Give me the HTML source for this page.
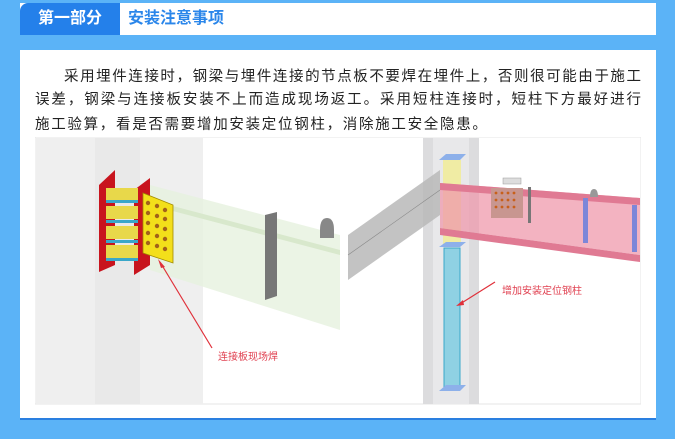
<!DOCTYPE html>
<html><head><meta charset="utf-8"><style>
*{margin:0;padding:0;box-sizing:border-box}
body{width:675px;height:439px;background:#5bb3f7;position:relative;overflow:hidden;font-family:"Liberation Sans","Noto Sans CJK SC",sans-serif}
#hdr{position:absolute;left:20px;top:3px;width:636px;height:32px;background:#fff}
#hdr .tag{position:absolute;left:0;top:0;width:100px;height:32px;background:#2480ea;color:#fff;font-weight:bold;font-size:16px;line-height:32px;text-align:center;border-top-left-radius:8px}
#hdr .ttl{position:absolute;left:108px;top:0;line-height:32px;font-size:16px;font-weight:bold;color:#2a86ea}
#panel{position:absolute;left:20px;top:50px;width:636px;height:370px;background:#fff;border-bottom:2px solid #2a7fe0}
.ln{position:absolute;left:35px;width:606px;font-size:14.5px;color:#222;height:20px;line-height:20px;text-align:justify;text-align-last:justify;white-space:nowrap}
</style></head><body>
<div id="hdr"><div class="tag">第一部分</div><div class="ttl">安装注意事项</div></div>
<div id="panel"></div>
<div class="ln" style="top:67px;left:64px;width:577px">采用埋件连接时，钢梁与埋件连接的节点板不要焊在埋件上，否则很可能由于施工</div>
<div class="ln" style="top:90px">误差，钢梁与连接板安装不上而造成现场返工。采用短柱连接时，短柱下方最好进行</div>
<div class="ln" style="top:115px;width:auto;letter-spacing:1.7px">施工验算，看是否需要增加安装定位钢柱，消除施工安全隐患。</div>
<svg style="position:absolute;left:35px;top:137px" width="606" height="268" viewBox="35 137 606 268">
<rect x="35" y="137" width="606" height="267" fill="#fff" stroke="#e6e6e6"/>
<rect x="36" y="138" width="167" height="266" fill="#efefef"/>
<rect x="95" y="138" width="45" height="266" fill="#e9e9e9"/>
<polygon points="150,185 340,235 340,330 150,270" fill="#e6f1df" opacity="0.8"/>
<polygon points="150,200 340,250 340,255 150,205" fill="#d8e8cc"/>
<polygon points="265,215 277,212 277,296 265,300" fill="#777"/>
<path d="M320,230 q0,-12 7,-12 q7,0 7,12 v8 h-14z" fill="#888"/>
<polygon points="99,185 115,170 115,265 99,272" fill="#c8141e"/>
<polygon points="134,190 150,178 150,265 134,275" fill="#c8141e"/>
<rect x="106" y="188" width="32" height="13" fill="#e8d84a"/><rect x="106" y="206" width="32" height="13" fill="#e8d84a"/>
<rect x="106" y="226" width="32" height="13" fill="#e8d84a"/><rect x="106" y="245" width="32" height="13" fill="#e8d84a"/>
<rect x="106" y="200" width="32" height="3" fill="#3aa7c9"/><rect x="106" y="220" width="32" height="3" fill="#3aa7c9"/><rect x="106" y="240" width="32" height="3" fill="#3aa7c9"/><rect x="106" y="258" width="32" height="3" fill="#3aa7c9"/>
<polygon points="143,193 173,205 173,263 143,253" fill="#f3df1a" stroke="#a08a00" stroke-width="0.8"/>
<g fill="#a2621a"><circle cx="148" cy="203" r="2.2"/><circle cx="157" cy="206" r="2.2"/><circle cx="165" cy="210" r="2.2"/><circle cx="148" cy="213" r="2.2"/><circle cx="157" cy="216" r="2.2"/><circle cx="165" cy="219" r="2.2"/><circle cx="148" cy="223" r="2.2"/><circle cx="157" cy="226" r="2.2"/><circle cx="165" cy="229" r="2.2"/><circle cx="148" cy="233" r="2.2"/><circle cx="157" cy="236" r="2.2"/><circle cx="165" cy="239" r="2.2"/><circle cx="148" cy="243" r="2.2"/><circle cx="157" cy="246" r="2.2"/><circle cx="165" cy="249" r="2.2"/></g>
<line x1="212" y1="348" x2="160" y2="262" stroke="#e0303a" stroke-width="1.2"/>
<polygon points="158,259 165,267 161,268" fill="#e0303a"/>
<text x="218" y="360" font-size="10" fill="#e04050">连接板现场焊</text>
<rect x="423" y="138" width="56" height="266" fill="#dcdcde"/>
<rect x="433" y="138" width="36" height="266" fill="#e8e8ea"/>
<polygon points="348,235 440,170 440,215 348,280" fill="#b9b9b9" opacity="0.85"/>
<line x1="348" y1="255" x2="440" y2="190" stroke="#888" stroke-width="0.6"/>
<rect x="443" y="160" width="18" height="85" fill="#f1ec9c" opacity="0.9"/>
<polygon points="439,160 446,154 466,154 460,160" fill="#8db0ea"/>
<polygon points="440,183 640,198 640,255 440,228" fill="#ef9aac" opacity="0.75"/>
<polygon points="440,183 640,198 640,205 440,190" fill="#e07a93"/>
<polygon points="440,228 640,255 640,262 440,235" fill="#e07a93"/>
<rect x="491" y="188" width="32" height="30" fill="#c89690"/>
<g fill="#c8601a"><circle cx="496" cy="193" r="1.4"/><circle cx="502" cy="193" r="1.4"/><circle cx="508" cy="193" r="1.4"/><circle cx="514" cy="193" r="1.4"/><circle cx="496" cy="200" r="1.4"/><circle cx="502" cy="200" r="1.4"/><circle cx="508" cy="200" r="1.4"/><circle cx="514" cy="200" r="1.4"/><circle cx="496" cy="207" r="1.4"/><circle cx="502" cy="207" r="1.4"/><circle cx="508" cy="207" r="1.4"/><circle cx="514" cy="207" r="1.4"/></g>
<rect x="528" y="187" width="3" height="36" fill="#777"/>
<rect x="583" y="198" width="5" height="45" fill="#7d86d8"/><rect x="632" y="205" width="5" height="47" fill="#7d86d8"/>
<path d="M590,197 q0,-8 4,-8 q4,0 4,8z" fill="#999"/>
<rect x="503" y="178" width="18" height="6" fill="#ddd" stroke="#999" stroke-width="0.5"/>
<polygon points="439,247 446,242 466,242 460,247" fill="#8db0ea"/>
<rect x="444" y="248" width="16" height="140" fill="#8fd1e3" stroke="#3aa7c9"/>
<polygon points="439,391 446,385 466,385 460,391" fill="#8db0ea"/>
<line x1="495" y1="282" x2="460" y2="304" stroke="#e0303a" stroke-width="1.2"/>
<polygon points="456,306 463,300 464,305" fill="#e0303a"/>
<text x="502" y="294" font-size="10" fill="#e04050">增加安装定位钢柱</text>
</svg>
</body></html>
